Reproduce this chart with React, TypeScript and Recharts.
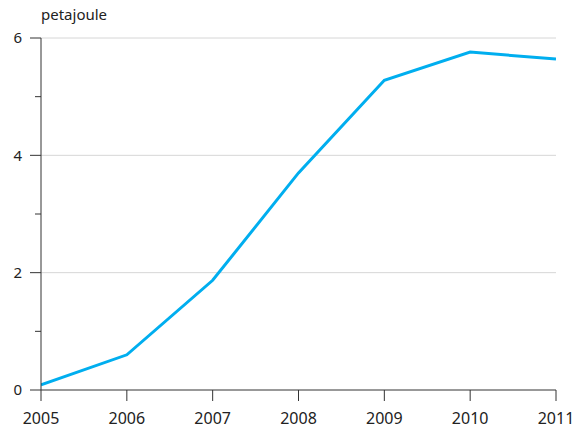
import { LineChart, Line, XAxis, YAxis, CartesianGrid } from 'recharts'

const years = [2005, 2006, 2007, 2008, 2009, 2010, 2011]
const petajoule = [0.09, 0.6, 1.87, 3.7, 5.28, 5.76, 5.64]
const yTicks = [0, 1, 2, 3, 4, 5, 6]
const yLabelled = [0, 2, 4, 6]

const data = years.map((year, i) => ({ year, value: petajoule[i] }))

const FONT = '"Noto Sans", "Open Sans", sans-serif'
const AXIS = '#333'
const PLOT_LEFT = 41

/* y ticks: long with a label on even values, short on the odd ones */
function YTick(props: any) {
  const { y, payload } = props
  const major = yLabelled.includes(payload.value)
  return (
    <g>
      <line x1={PLOT_LEFT - (major ? 11 : 6)} x2={PLOT_LEFT} y1={y} y2={y} stroke={AXIS} strokeWidth={1} />
      {major && (
        <text x={PLOT_LEFT - 19} y={y} dy="0.35em" textAnchor="end" fontSize={15} fill="#222" fontFamily={FONT}>
          {payload.value}
        </text>
      )}
    </g>
  )
}

export default function App() {
  return (
    <div style={{ position: 'absolute', left: 0, top: 0, width: 573, height: 432, background: '#fff' }}>
      <div style={{ position: 'absolute', left: 41, top: 4, fontFamily: FONT, fontSize: 15, color: '#222' }}>
        petajoule
      </div>
      <LineChart width={573} height={432} data={data} margin={{ top: 38, right: 17, bottom: 0, left: 0 }}>
        <CartesianGrid vertical={false} stroke="#d6d6d6" horizontalValues={[2, 4, 6]} />
        <XAxis
          dataKey="year" type="number" domain={[2005, 2011]} ticks={years} height={42}
          axisLine={{ stroke: AXIS }} tickLine={{ stroke: AXIS }} tickSize={11} tickMargin={12}
          tick={{ fontSize: 16, fill: '#222', fontFamily: FONT }}
          interval={0} allowDataOverflow
        />
        <YAxis
          domain={[0, 6]} ticks={yTicks} width={41} interval={0}
          axisLine={{ stroke: AXIS }} tickLine={false} tick={<YTick />}
        />
        <Line type="linear" dataKey="value" stroke="#00aeef" strokeWidth={3} dot={false} isAnimationActive={false} />
      </LineChart>
    </div>
  )
}
